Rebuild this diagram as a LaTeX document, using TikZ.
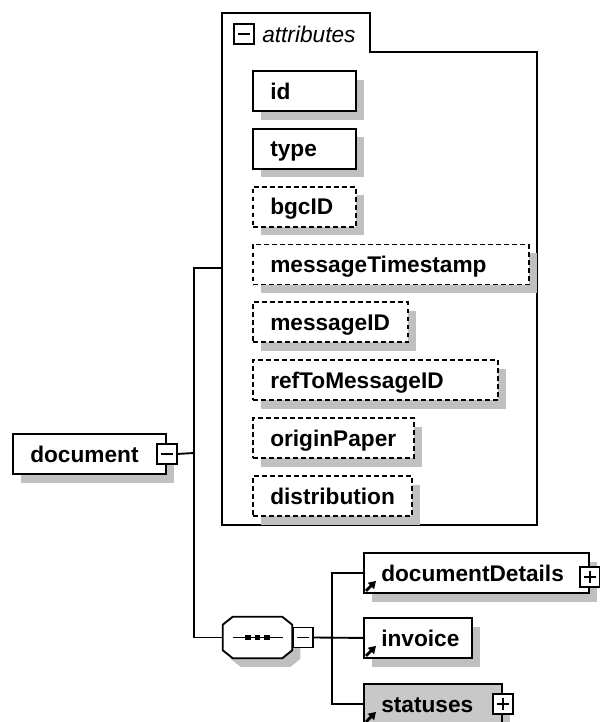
\documentclass[tikz,border=0pt]{standalone}
\usepackage{fontspec}
\setmainfont{Liberation Sans}
\usepackage{tikz}
\usetikzlibrary{positioning, arrows.meta, shadows}

\definecolor{shade}{RGB}{192,192,192}
\definecolor{reffill}{RGB}{200,200,200}
\newcommand{\elfont}{\fontsize{17}{20}\selectfont\bfseries}

\begin{document}
\begin{tikzpicture}[x=0.75pt, y=-0.75pt,
  elem/.style={draw=black, fill=white, line width=1.4pt, anchor=north west,
               font=\elfont, align=left, text width=#1, inner xsep=13pt, inner ysep=0pt,
               text height=12.2pt, text depth=0pt, minimum height=30pt,
               drop shadow={shadow xshift=6pt, shadow yshift=-6.5pt, fill=shade, opacity=1}},
  optional/.style={elem=#1, dash pattern=on 3.6pt off 2.4pt},
  toggle/.style={draw=black, fill=white, line width=1.1pt, minimum size=15pt, inner sep=0pt},
  minus/.style={toggle, path picture={
      \draw[line width=1.1pt] ([xshift=3pt]path picture bounding box.west) -- ([xshift=-3pt]path picture bounding box.east);}},
  plus/.style={toggle, path picture={
      \draw[line width=1.1pt] ([xshift=3pt]path picture bounding box.west) -- ([xshift=-3pt]path picture bounding box.east);
      \draw[line width=1.1pt] ([yshift=-3pt]path picture bounding box.north) -- ([yshift=3pt]path picture bounding box.south);}},
  seqframe/.style={draw=black, fill=white, line width=1.4pt,
                   drop shadow={shadow xshift=6pt, shadow yshift=-6.5pt, fill=shade, opacity=1}},
  conn/.style={line width=1.4pt},
  refarrow/.style={line width=2pt, -{Triangle[length=5.5pt, width=6.5pt]}},
]
  \useasboundingbox (0,0) rectangle (600,722);
  \fill[white] (0,0) rectangle (600,722);
  \clip (0,0) rectangle (600,722);

  \draw[line width=1.4pt, fill=white] (222,13) -- (370,13) -- (370,52) -- (537,52) -- (537,525) -- (222,525) -- cycle;
  \node[minus] (attrminus) at (244,34) {};
  \node[anchor=west, font=\fontsize{17}{20}\selectfont\itshape, inner sep=0pt] (attrlabel) at (262,34) {attributes};
  \coordinate (attrin) at (222,268);

  \node[elem=51.25pt] (id) at (252,70) {id};
  \node[elem=51.25pt, below=12pt of id.south west, anchor=north west] (type) {type};
  \node[optional=51.25pt, below=12pt of type.south west, anchor=north west] (bgcid) {bgcID};
  \node[optional=181pt, below=12pt of bgcid.south west, anchor=north west] (timestamp) {messageTimestamp};
  \node[optional=90.25pt, below=12pt of timestamp.south west, anchor=north west] (msgid) {messageID};
  \node[optional=157.75pt, below=12pt of msgid.south west, anchor=north west] (reftomsg) {refToMessageID};
  \node[optional=94.75pt, below=12pt of reftomsg.south west, anchor=north west] (origin) {originPaper};
  \node[optional=93.25pt, below=12pt of origin.south west, anchor=north west] (distrib) {distribution};

  \node[elem=88.75pt] (docbox) at (12,433) {document};
  \node[minus] (docminus) at (docbox.east) {};

  \node[minimum width=51.75pt, minimum height=30.75pt, inner sep=0pt] (seq) at (257.5,637.5) {};
  \path[seqframe] ([xshift=7.5pt]seq.north west) -- ([xshift=-7.5pt]seq.north east)
    -- ([yshift=-6pt]seq.north east) -- ([yshift=6pt]seq.south east)
    -- ([xshift=-7.5pt]seq.south east) -- ([xshift=7.5pt]seq.south west)
    -- ([yshift=6pt]seq.south west) -- ([yshift=-6pt]seq.north west) -- cycle;
  \draw[line width=1.2pt] ([xshift=-18.75pt]seq.center) -- ([xshift=18.75pt]seq.center);
  \foreach \dx in {-7pt,0pt,7pt}
    \fill ([xshift=\dx]seq.center) +(-2.2pt,-2.2pt) rectangle +(2.2pt,2.2pt);
  \node[minus, anchor=west] (seqminus) at (seq.east) {};

  \node[elem=142.75pt] (details) at (363,552) {documentDetails};
  \node[plus] (detailsplus) at ([yshift=-3pt]details.east) {};
  \node[elem=55pt] (invoice) at (363,617) {invoice};
  \node[elem=77.5pt, fill=reffill] (statuses) at (363,683) {statuses};
  \node[plus] (statusesplus) at (statuses.east) {};

  \foreach \n in {details,invoice,statuses}
    \draw[refarrow] ([shift={(3,-3)}]\n.south west) -- ++(10,-10);

  \coordinate (fork) at (194,453);
  \coordinate (fork2) at (332,637.5);
  \draw[conn] (docminus.east) -- (fork);
  \draw[conn] (attrin) -| (fork) |- (seq.west);
  \draw[conn] (seqminus.east) -- (invoice.west);
  \draw[conn] (details.west) -| (fork2) |- (statuses.west);
\end{tikzpicture}
\end{document}
